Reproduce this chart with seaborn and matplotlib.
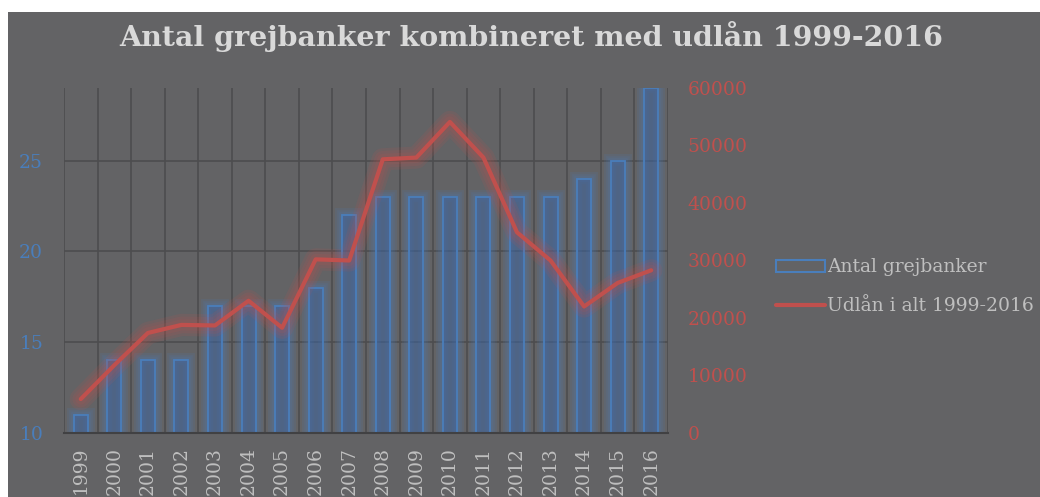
import pandas as pd
import matplotlib
matplotlib.use('Agg')
import matplotlib.pyplot as plt
import matplotlib.patheffects as pe
from matplotlib.patches import Rectangle, Patch
from matplotlib.lines import Line2D
import seaborn as sns

sns.set_style('ticks')
plt.rcParams['font.family'] = ['DejaVu Serif']

years = [str(y) for y in range(1999, 2017)]
grejbanker = [11, 14, 14, 14, 17, 17, 17, 18, 22, 23, 23, 23, 23, 23, 23, 24, 25, 29]
udlaan = [5900, 11800, 17400, 18800, 18700, 23000, 18300, 30200, 30000, 47600,
          47900, 54100, 47900, 34900, 30000, 22000, 26100, 28300]

title = 'Antal grejbanker kombineret med udlån 1999-2016'
bar_label = 'Antal grejbanker'
line_label = 'Udlån i alt 1999-2016'

bg = '#636365'
grid_c = '#4d4d4f'
blue = '#4A7EBB'
red = '#C0504D'
txt = '#BFBFBF'

df = pd.DataFrame({'year': years, 'n': grejbanker, 'udlaan': udlaan})

fig = plt.figure(figsize=(10.4, 4.97), dpi=100)
fig.patch.set_facecolor('white')
fig.add_artist(Rectangle((8 / 1040, 0), 1, 1 - 12 / 497, transform=fig.transFigure,
                         facecolor=bg, edgecolor='none', zorder=-10))

ax = fig.add_axes([64 / 1040, 64 / 497, 604 / 1040, 345 / 497])
ax.set_facecolor('none')

sns.barplot(data=df, x='year', y='n', ax=ax, width=0.42,
            color=(58 / 255, 98 / 255, 160 / 255, 0.45),
            edgecolor=blue, linewidth=1.3, saturation=1, zorder=2)
glow_b = [pe.PathPatchEffect(facecolor='none', edgecolor=blue, linewidth=w, alpha=0.14)
          for w in (10, 7, 4)] + [pe.Normal()]
for p in ax.patches:
    p.set_path_effects(glow_b)

ax.set_xlim(-0.5, 17.5)
ax.set_ylim(10, 29)
ax.set_yticks([10, 15, 20, 25])
ax.set_xticks(range(len(years)))
ax.set_xticklabels(years, rotation=90)
ax.set_xticks([i - 0.5 for i in range(len(years) + 1)], minor=True)
ax.grid(False)
ax.xaxis.grid(True, which='minor', color=grid_c, linewidth=1.2)
ax.yaxis.grid(True, which='major', color=grid_c, linewidth=1.2)
ax.set_axisbelow(True)
ax.tick_params(axis='both', which='both', length=0)
ax.tick_params(axis='y', colors=blue, labelsize=13.5, pad=15)
ax.tick_params(axis='x', colors=txt, labelsize=13.5, pad=10)
ax.set_xlabel('')
ax.set_ylabel('')
for s in ['top', 'right', 'left']:
    ax.spines[s].set_visible(False)
ax.spines['bottom'].set_color('#414143')
ax.spines['bottom'].set_linewidth(1.5)

ax2 = ax.twinx()
sns.lineplot(data=df, x='year', y='udlaan', ax=ax2, color=red, linewidth=3,
             sort=False, zorder=3)
for ln in ax2.lines:
    ln.set_path_effects([pe.Stroke(linewidth=w, foreground=red, alpha=0.13)
                         for w in (16, 12, 8)] + [pe.Normal()])
ax2.set_ylim(0, 60000)
ax2.set_yticks(range(0, 60001, 10000))
ax2.tick_params(axis='y', length=0, colors=red, labelsize=13.5, pad=14)
ax2.set_ylabel('')
ax2.grid(False)
for s in ax2.spines.values():
    s.set_visible(False)

fig.text(531 / 1040, 1 - 37 / 497, title, ha='center', va='center',
         fontsize=20.5, fontweight='bold', color='#D9D9D9')

handles = [Patch(facecolor='none', edgecolor=blue, linewidth=1.5),
           Line2D([], [], color=red, linewidth=3)]
leg = fig.legend(handles, [bar_label, line_label], loc='center left',
                 bbox_to_anchor=(776 / 1040, 1 - 286.5 / 497), frameon=False,
                 fontsize=13.5, labelcolor=txt, handlelength=2.6, handleheight=0.6,
                 handletextpad=0.1, borderpad=0, borderaxespad=0, labelspacing=1.1)

fig.savefig('out.png', dpi=100)
